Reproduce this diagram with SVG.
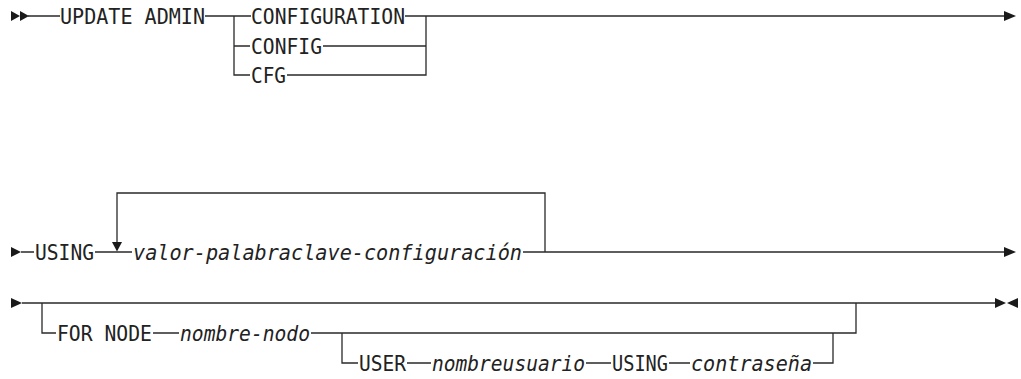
<svg xmlns="http://www.w3.org/2000/svg" width="1021" height="379" viewBox="0 0 1021 379">
<style>
.t{font-family:"DejaVu Sans Mono","Liberation Mono",monospace;font-size:20.5px;fill:#222}
.i{font-style:italic}
.c{fill:none;stroke:#2a2a2a;stroke-width:1.3}
.a{fill:#1a1a1a}
</style>
<rect width="1021" height="379" fill="#fff"/>
<g id="connectors">
<path class="c" d="M28,16 H60 M205,16 H251 M405,16 H1006 M234,16 V75 H250 M234,46 H250 M323,46 H426 M287,75 H426 V16"/>
<polygon class="a" points="11,11 20,16 11,21"/>
<polygon class="a" points="20,11 29,16 20,21"/>
<polygon class="a" points="1004,11 1016,16 1004,21"/>
<path class="c" d="M21,252 H34 M95,252 H132 M523,252 H1006 M117,243 V193 H545 V252"/>
<polygon class="a" points="11,247 21,252 11,257"/>
<polygon class="a" points="112,242 122,242 117,251.5"/>
<polygon class="a" points="1004,247 1016,252 1004,257"/>
<path class="c" d="M22,303 H996 M42,303 V333 H56 M153,333 H179 M311,333 H856 V303 M342,333 V363 H358 M407,363 H431 M586,363 H611 M669,363 H690 M813,363 H833 V333"/>
<polygon class="a" points="11,298 22,303 11,308"/>
<polygon class="a" points="995,298 1006,303 995,308"/>
<polygon class="a" points="1018,298 1007,303 1018,308"/>
</g>
<g id="n-update"><text class="t" x="60" y="23.5" textLength="145" lengthAdjust="spacingAndGlyphs">UPDATE ADMIN</text></g>
<g id="n-configuration"><text class="t" x="251" y="23.5" textLength="154" lengthAdjust="spacingAndGlyphs">CONFIGURATION</text></g>
<g id="n-config"><text class="t" x="251" y="53.5" textLength="71" lengthAdjust="spacingAndGlyphs">CONFIG</text></g>
<g id="n-cfg"><text class="t" x="251" y="82.5" textLength="35" lengthAdjust="spacingAndGlyphs">CFG</text></g>
<g id="n-using"><text class="t" x="35" y="259.5" textLength="59" lengthAdjust="spacingAndGlyphs">USING</text></g>
<g id="n-valor"><text class="t i" x="133" y="259.5" textLength="389" lengthAdjust="spacingAndGlyphs">valor-palabraclave-configuración</text></g>
<g id="n-fornode"><text class="t" x="57" y="340.5" textLength="95" lengthAdjust="spacingAndGlyphs">FOR NODE</text></g>
<g id="n-nombrenodo"><text class="t i" x="180" y="340.5" textLength="130" lengthAdjust="spacingAndGlyphs">nombre-nodo</text></g>
<g id="n-user"><text class="t" x="359" y="370.5" textLength="47" lengthAdjust="spacingAndGlyphs">USER</text></g>
<g id="n-nombreusuario"><text class="t i" x="432" y="370.5" textLength="153" lengthAdjust="spacingAndGlyphs">nombreusuario</text></g>
<g id="n-using2"><text class="t" x="612" y="370.5" textLength="56" lengthAdjust="spacingAndGlyphs">USING</text></g>
<g id="n-contrasena"><text class="t i" x="691" y="370.5" textLength="121" lengthAdjust="spacingAndGlyphs">contraseña</text></g>
</svg>
